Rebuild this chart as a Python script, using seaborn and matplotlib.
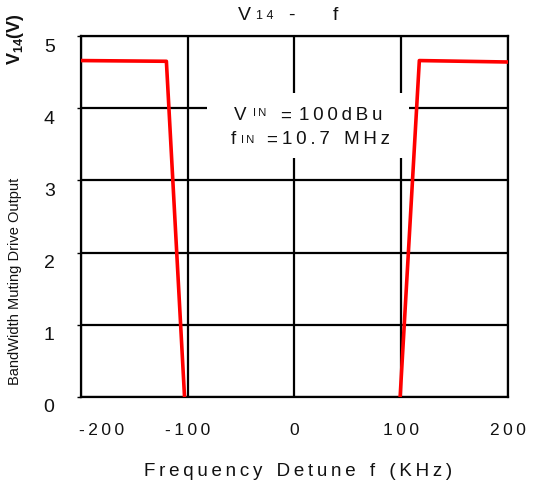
import matplotlib
matplotlib.use("Agg")
import matplotlib.pyplot as plt
import seaborn as sns
import pandas as pd
from matplotlib.patches import Rectangle
from matplotlib.transforms import ScaledTranslation

# ---- data ----
left_freq = [-200, -120, -103]
left_volt = [4.66, 4.65, 0.0]
right_freq = [99, 117, 200]
right_volt = [0.0, 4.66, 4.64]
x_ticks = [-200, -100, 0, 100, 200]
x_tick_labels = ["-\u20092\u20090\u20090", "-\u20091\u20090\u20090", "0",
                 "1\u20090\u20090", "2\u20090\u20090"]
y_ticks = [0, 1, 2, 3, 4, 5]
y_tick_labels = ["0", "1", "2", "3", "4", "5"]

sns.set_theme(style="white")
plt.rcParams['font.family'] = ['Liberation Sans', 'DejaVu Sans']
plt.rcParams['mathtext.fontset'] = 'custom'
plt.rcParams['mathtext.rm'] = 'Liberation Sans'
plt.rcParams['mathtext.bf'] = 'Liberation Sans:bold'
plt.rcParams['text.color'] = '#111111'

df = pd.DataFrame({
    'freq': left_freq + right_freq,
    'volt': left_volt + right_volt,
    'side': ['L'] * len(left_freq) + ['R'] * len(right_freq),
})

fig = plt.figure(figsize=(5.35, 4.89), dpi=100)
ax = fig.add_axes([0.1514, 0.1861, 0.798, 0.7382])

sns.lineplot(data=df, x='freq', y='volt', units='side', estimator=None, sort=False,
             color='#ff0000', lw=2.6, ax=ax, zorder=3)

ax.set_xlim(-200, 200)
ax.set_ylim(0, 5)
ax.set_xticks(x_ticks)
ax.set_xticklabels(x_tick_labels)
ax.set_yticks(y_ticks)
ax.set_yticklabels(y_tick_labels)
ax.set_xlabel('')
ax.set_ylabel('')

ax.set_axisbelow(True)
ax.grid(True, color='black', lw=1.6)
for sp in ax.spines.values():
    sp.set_visible(True)
    sp.set_color('black')
    sp.set_linewidth(1.6)

ax.tick_params(axis='x', length=0, pad=18, labelsize=12.5, labelcolor='#111111')
ax.tick_params(axis='y', left=True, length=3, width=1, color='black', pad=16,
               labelsize=14, labelcolor='#111111')

for lab in ax.get_yticklabels():
    lab.set_transform(lab.get_transform() + ScaledTranslation(0, -0.08, fig.dpi_scale_trans))
xl = ax.get_xticklabels()
xl[0].set_transform(xl[0].get_transform() + ScaledTranslation(0.21, 0, fig.dpi_scale_trans))

# white box behind the annotation
ax.add_patch(Rectangle((-82, 3.31), 189, 0.90, facecolor='white', edgecolor='none', zorder=1))


def ftext(px, py, s, **kw):
    fig.text(px / 535, 1 - py / 489, s, ha='center', va='center', **kw)


# annotation pieces
ftext(240, 115, "V", fontsize=13.5)
ftext(260, 113, "I\u2009N", fontsize=8)
ftext(286, 116, "=", fontsize=13.5)
ftext(341, 115, "1\u20090\u20090\u2009d\u2009B\u2009u", fontsize=13.5)
ftext(233, 139, "f", fontsize=13.5)
ftext(248, 140, "I\u2009N", fontsize=8)
ftext(272, 140, "=", fontsize=13.5)
ftext(336, 139, "1\u20090\u2009.\u20097 \u2009 M\u2009H\u2009z", fontsize=13.5)

# title pieces
ftext(244, 15, "V", fontsize=14)
ftext(265, 16, "1 4", fontsize=9)
ftext(291, 15, "-", fontsize=14)
ftext(335, 15, "f", fontsize=14)

# y-axis labels
fig.text(15 / 535, 1 - 39 / 489, r"$\mathbf{V_{14}(V)}$", rotation=90,
         ha='center', va='center', fontsize=13)
fig.text(15 / 535, 1 - 281 / 489, "BandWidth Muting Drive Output", rotation=90,
         ha='center', va='center', fontsize=10.5)

# x-axis label
ftext(298, 472, "F\u2009r\u2009e\u2009q\u2009u\u2009e\u2009n\u2009c\u2009y \u2009 "
      "D\u2009e\u2009t\u2009u\u2009n\u2009e \u2009 f \u2009 (\u2009K\u2009H\u2009z\u2009)",
      fontsize=13.5)

fig.savefig("out.png", dpi=100)
